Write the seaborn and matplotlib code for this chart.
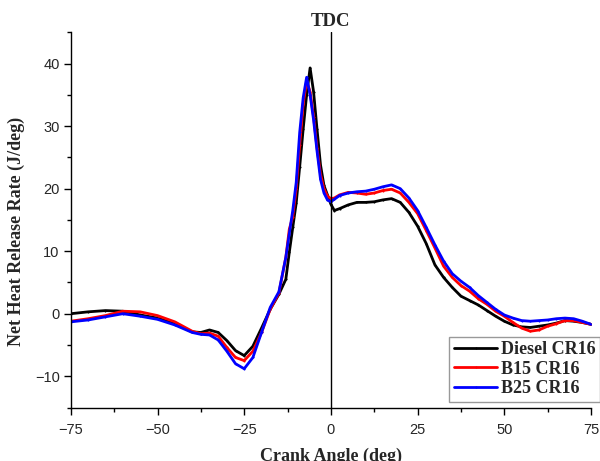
import pandas as pd
import matplotlib.pyplot as plt
import seaborn as sns
from matplotlib.ticker import MultipleLocator

# crank angle (deg)
angle = [-75, -70, -65, -60, -55, -50, -45, -40, -37.5, -35, -32.5, -30, -27.5, -25,
         -22.5, -20, -17.5, -15, -13, -12, -11, -10, -9, -8, -7, -6, -5, -4, -3, -2,
         -1, 0, 1, 2.5, 5, 7.5, 10, 12.5, 15, 17.5, 20, 22.5, 25, 27.5, 30, 32.5, 35,
         37.5, 40, 42.5, 45, 47.5, 50, 52.5, 55, 57.5, 60, 62.5, 65, 67.5, 70, 72.5, 75]

# net heat release rate (J/deg)
diesel = [0.0, 0.3, 0.5, 0.4, -0.2, -0.7, -1.6, -2.9, -3.0, -2.6, -3.0, -4.3, -5.9, -6.7,
          -5.2, -2.3, 0.7, 3.1, 5.5, 9.8, 13.8, 17.7, 23.5, 29.5, 35.0, 39.3, 35.5, 29.5,
          23.8, 20.5, 19.0, 17.5, 16.5, 16.8, 17.4, 17.8, 17.8, 17.9, 18.2, 18.4, 17.8,
          16.2, 14.0, 11.2, 7.8, 5.8, 4.2, 2.8, 2.1, 1.4, 0.5, -0.4, -1.2, -1.8, -2.1,
          -2.2, -2.0, -1.8, -1.5, -1.1, -1.2, -1.4, -1.7]
b15 = [-1.2, -0.8, -0.3, 0.4, 0.3, -0.3, -1.3, -2.8, -3.2, -3.1, -3.6, -5.4, -7.0, -7.5,
       -6.0, -3.0, 0.7, 3.3, 9.0, 13.5, 15.5, 20.0, 27.0, 33.5, 37.2, 35.5, 31.5, 26.5,
       22.3, 20.0, 18.8, 18.4, 18.5, 19.0, 19.4, 19.3, 19.1, 19.3, 19.7, 19.9, 19.3,
       17.8, 16.0, 13.3, 10.5, 7.6, 5.8, 4.5, 3.6, 2.4, 1.5, 0.4, -0.4, -1.4, -2.3,
       -2.8, -2.6, -2.0, -1.6, -1.1, -1.1, -1.4, -1.7]
b25 = [-1.3, -1.0, -0.5, 0.0, -0.4, -0.9, -1.8, -3.0, -3.3, -3.4, -4.2, -6.0, -8.0, -8.8,
       -7.0, -3.0, 1.0, 3.5, 9.0, 12.8, 16.5, 21.0, 29.0, 34.5, 37.8, 35.0, 31.0, 26.0,
       21.5, 19.3, 18.2, 17.9, 18.3, 18.9, 19.3, 19.5, 19.6, 19.9, 20.3, 20.6, 20.0,
       18.5, 16.5, 13.8, 11.0, 8.4, 6.4, 5.2, 4.2, 2.9, 1.8, 0.7, -0.2, -0.7, -1.1,
       -1.2, -1.1, -1.0, -0.8, -0.7, -0.8, -1.2, -1.7]

fuels = ["Diesel CR16", "B15 CR16", "B25 CR16"]
colors = ["black", "red", "blue"]

df = pd.concat([
    pd.DataFrame({"Angle": angle, "HRR": diesel, "Fuel": fuels[0]}),
    pd.DataFrame({"Angle": angle, "HRR": b15, "Fuel": fuels[1]}),
    pd.DataFrame({"Angle": angle, "HRR": b25, "Fuel": fuels[2]}),
])

sns.set_style("ticks")
plt.rcParams["font.family"] = ["Liberation Sans", "DejaVu Sans"]

fig = plt.figure(figsize=(6, 4.61), dpi=100)
ax = fig.add_axes([0.118, 0.116, 0.867, 0.814])

sns.lineplot(data=df, x="Angle", y="HRR", hue="Fuel", palette=colors, ax=ax,
             marker=".", markersize=3, markeredgewidth=0, linewidth=2)

# TDC marker line
ax.axvline(0, color="black", linewidth=1)
ax.text(0, 46.8, "TDC", ha="center", va="center", fontsize=13.5, fontweight="bold",
        family="Liberation Serif")

ax.set_xlim(-75, 75)
ax.set_ylim(-15, 45)
ax.xaxis.set_major_locator(MultipleLocator(25))
ax.xaxis.set_minor_locator(MultipleLocator(12.5))
ax.yaxis.set_major_locator(MultipleLocator(10))
ax.yaxis.set_minor_locator(MultipleLocator(5))
ax.tick_params(which="major", length=5, width=1, direction="out", labelsize=10.5, color="black")
ax.tick_params(which="minor", length=3, width=1, direction="out", color="black")
ax.tick_params(axis="x", pad=6)
ax.tick_params(axis="y", pad=3)

sns.despine(ax=ax)
for s in ["left", "bottom"]:
    ax.spines[s].set_color("black")
    ax.spines[s].set_linewidth(1)

ax.set_xlabel("Crank Angle (deg)", fontsize=13, fontweight="bold", family="Liberation Serif", labelpad=8)
ax.set_ylabel("Net Heat Release Rate (J/deg)", fontsize=13, fontweight="bold", family="Liberation Serif")
ax.yaxis.set_label_coords(-0.088, 0.47)

handles, labels = ax.get_legend_handles_labels()
leg = ax.legend(handles, labels, loc="lower right", bbox_to_anchor=(1.0, 0.128),
                bbox_transform=fig.transFigure, frameon=True, fancybox=False,
                handlelength=2.4, handletextpad=0.2, borderpad=0.25, labelspacing=0.15,
                borderaxespad=0, prop={"family": "Liberation Serif", "weight": "bold", "size": 13})
leg.get_frame().set_edgecolor("gray")
leg.get_frame().set_linewidth(1)

fig.savefig("out.png", dpi=100)
